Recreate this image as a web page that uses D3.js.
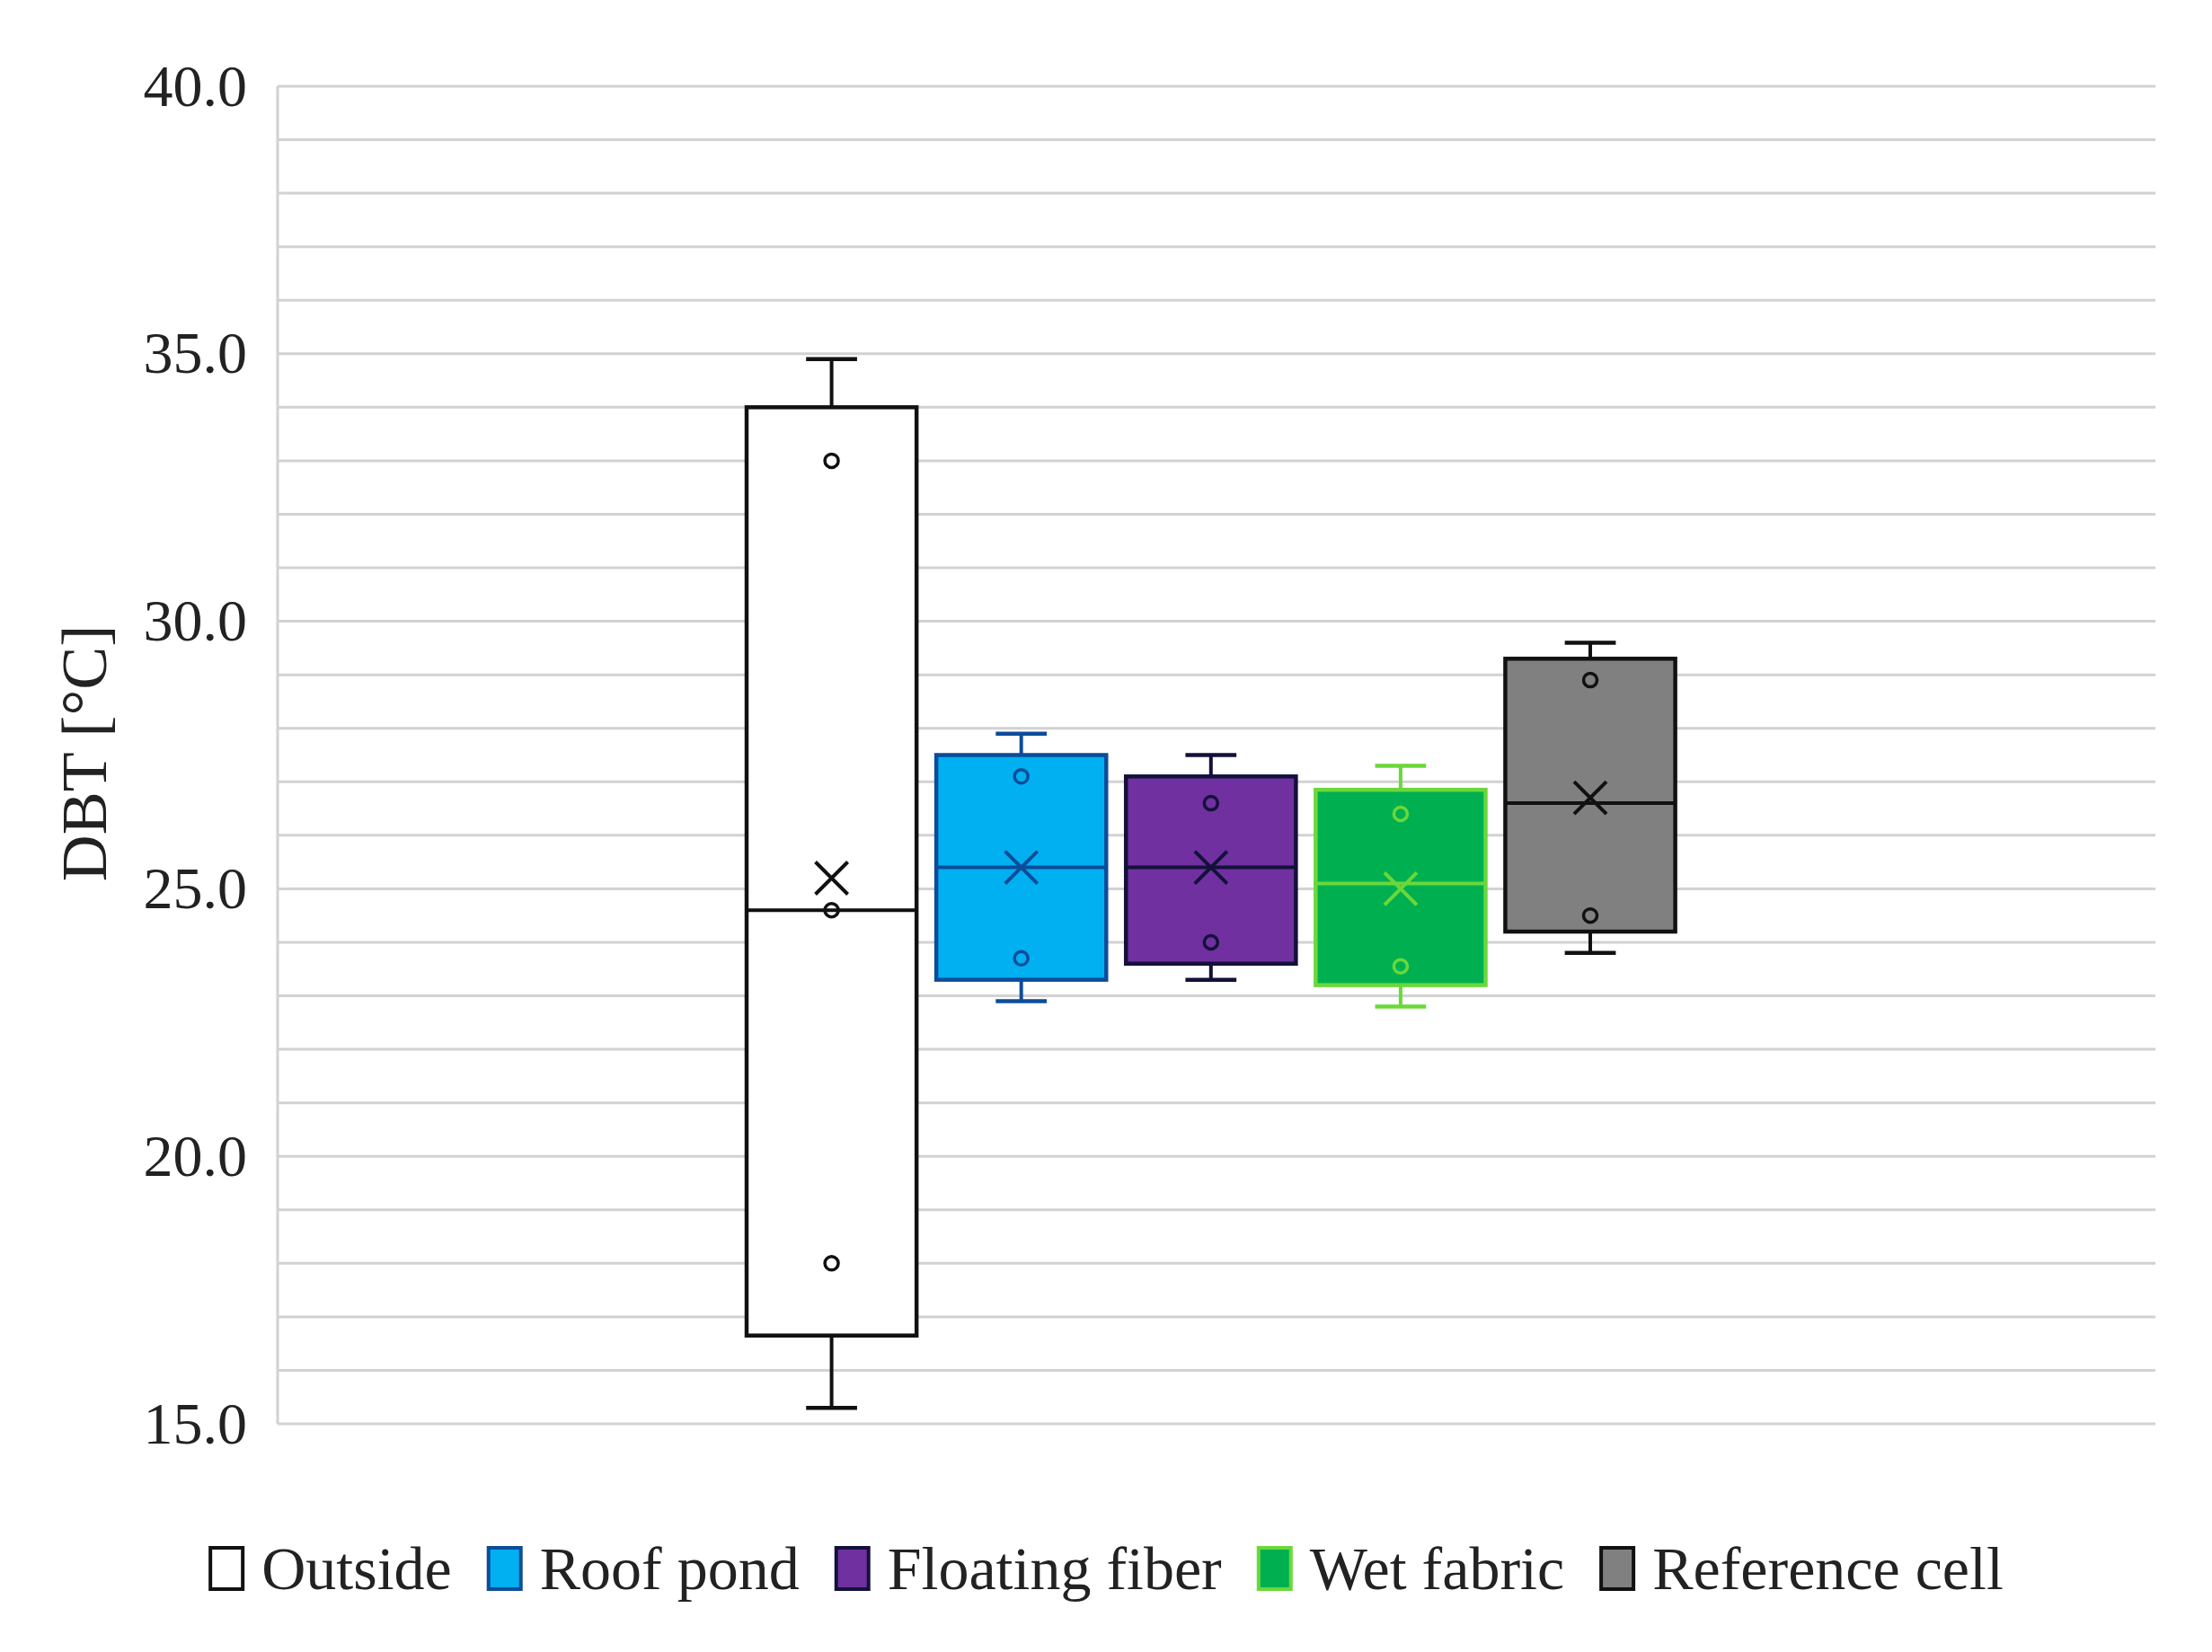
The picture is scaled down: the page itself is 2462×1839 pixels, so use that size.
<!DOCTYPE html>
<html>
<head>
<meta charset="utf-8">
<script src="https://cdn.jsdelivr.net/npm/d3@7"></script>
<style>
  html, body { margin: 0; padding: 0; background: #fff; }
  svg text { font-family: "Liberation Serif", "DejaVu Serif", serif; fill: #222; }
</style>
</head>
<body>
<div id="chart"></div>
<script>
// Series (one box per series, single category)
const series = ['Outside', 'Roof pond', 'Floating fiber', 'Wet fabric', 'Reference cell'];
const whiskerMin = [15.3, 22.9, 23.3, 22.8, 23.8];
const q1 = [16.65, 23.3, 23.6, 23.2, 24.2];
const median = [24.6, 25.4, 25.4, 25.1, 26.6];
const q3 = [34.0, 27.5, 27.1, 26.85, 29.3];
const whiskerMax = [34.9, 27.9, 27.5, 27.3, 29.6];
const mean = [25.2, 25.4, 25.4, 25.0, 26.7];
const innerPoints = [
    [18.0, 24.6, 33.0],
    [23.7, 27.1],
    [24.0, 26.6],
    [23.55, 26.4],
    [24.5, 28.9]
];
const yTicks = [15, 20, 25, 30, 35, 40];

// Colours per series
const fills = ['#ffffff', '#00b0f0', '#7030a0', '#00b050', '#808080'];
const strokes = ['#111111', '#0d4c9a', '#13113a', '#6ad83a', '#111111'];

const width = 2462;
const height = 1839;
const margin = { left: 309, right: 63, top: 96, bottom: 254 };

const svg = d3.select('#chart')
    .append('svg')
    .attr('width', width)
    .attr('height', height);

const y = d3.scaleLinear()
    .domain([15, 40])
    .range([height - margin.bottom, margin.top]);

// outer band = the single category, inner band = series within it
const x0 = d3.scaleBand()
    .domain(['DBT'])
    .range([margin.left, width - margin.right])
    .paddingOuter(0.49)
    .align(0.494);

const x1 = d3.scaleBand()
    .domain(series)
    .range([x0('DBT'), x0('DBT') + x0.bandwidth()])
    .paddingInner(0.104)
    .paddingOuter(0.052);

// Gridlines every 1.0
const grid = svg.append('g');
grid.selectAll('line')
    .data(d3.range(15, 41, 1))
    .enter()
    .append('line')
    .attr('x1', margin.left)
    .attr('x2', width - margin.right)
    .attr('y1', d => y(d))
    .attr('y2', d => y(d))
    .attr('stroke', '#d2d2d2')
    .attr('stroke-width', 3);

grid.append('line')
    .attr('x1', margin.left)
    .attr('x2', margin.left)
    .attr('y1', y(40))
    .attr('y2', y(15))
    .attr('stroke', '#d2d2d2')
    .attr('stroke-width', 3);

// Y axis labels
const yAxis = d3.axisLeft(y)
    .tickValues(yTicks)
    .tickFormat(d3.format('.1f'))
    .tickSize(0)
    .tickPadding(34);

svg.append('g')
    .attr('transform', `translate(${margin.left},0)`)
    .call(yAxis)
    .call(g => g.select('.domain').remove())
    .call(g => g.selectAll('text')
        .attr('font-size', 66)
        .attr('fill', '#222')
        .attr('font-family', '"Liberation Serif", serif'));

// Y axis title
svg.append('text')
    .attr('transform', `translate(94,${(y(40) + y(15)) / 2 - 2}) rotate(-90)`)
    .attr('text-anchor', 'middle')
    .attr('dominant-baseline', 'central')
    .attr('font-size', 72)
    .text('DBT [°C]');

// Boxes
const boxes = svg.append('g')
    .selectAll('g')
    .data(series)
    .enter()
    .append('g');

const bw = x1.bandwidth();
const cx = name => x1(name) + bw / 2;
const capW = bw * 0.3;

// whiskers
boxes.append('line')
    .attr('x1', d => cx(d)).attr('x2', d => cx(d))
    .attr('y1', (d, i) => y(q3[i])).attr('y2', (d, i) => y(whiskerMax[i]))
    .attr('stroke', (d, i) => strokes[i]).attr('stroke-width', 4);
boxes.append('line')
    .attr('x1', d => cx(d)).attr('x2', d => cx(d))
    .attr('y1', (d, i) => y(q1[i])).attr('y2', (d, i) => y(whiskerMin[i]))
    .attr('stroke', (d, i) => strokes[i]).attr('stroke-width', 4);
boxes.append('line')
    .attr('x1', d => cx(d) - capW / 2).attr('x2', d => cx(d) + capW / 2)
    .attr('y1', (d, i) => y(whiskerMax[i])).attr('y2', (d, i) => y(whiskerMax[i]))
    .attr('stroke', (d, i) => strokes[i]).attr('stroke-width', 4.5);
boxes.append('line')
    .attr('x1', d => cx(d) - capW / 2).attr('x2', d => cx(d) + capW / 2)
    .attr('y1', (d, i) => y(whiskerMin[i])).attr('y2', (d, i) => y(whiskerMin[i]))
    .attr('stroke', (d, i) => strokes[i]).attr('stroke-width', 4.5);

// box body
boxes.append('rect')
    .attr('x', d => x1(d))
    .attr('width', bw)
    .attr('y', (d, i) => y(q3[i]))
    .attr('height', (d, i) => y(q1[i]) - y(q3[i]))
    .attr('fill', (d, i) => fills[i])
    .attr('stroke', (d, i) => strokes[i])
    .attr('stroke-width', 4.5);

// median
boxes.append('line')
    .attr('x1', d => x1(d)).attr('x2', d => x1(d) + bw)
    .attr('y1', (d, i) => y(median[i])).attr('y2', (d, i) => y(median[i]))
    .attr('stroke', (d, i) => strokes[i]).attr('stroke-width', 4);

// inner points
boxes.each(function(d, i) {
    d3.select(this).selectAll('circle')
        .data(innerPoints[i])
        .enter()
        .append('circle')
        .attr('cx', cx(d))
        .attr('cy', v => y(v))
        .attr('r', 7.5)
        .attr('fill', 'none')
        .attr('stroke', strokes[i])
        .attr('stroke-width', 3.5);
});

// mean marker (X)
const xs = 18;
boxes.append('path')
    .attr('d', (d, i) => {
        const px = cx(d), py = y(mean[i]);
        return `M${px - xs},${py - xs}L${px + xs},${py + xs}M${px - xs},${py + xs}L${px + xs},${py - xs}`;
    })
    .attr('stroke', (d, i) => strokes[i])
    .attr('stroke-width', 4)
    .attr('fill', 'none');

// Legend
const legend = svg.append('g');
const legendY = 1746;
const swW = 40, swH = 46;
let lx = 0;
series.forEach((name, i) => {
    const item = legend.append('g').attr('transform', `translate(${lx},0)`);
    item.append('rect')
        .attr('x', 2).attr('y', legendY - swH / 2)
        .attr('width', swW - 4).attr('height', swH)
        .attr('fill', fills[i])
        .attr('stroke', strokes[i])
        .attr('stroke-width', 4);
    const t = item.append('text')
        .attr('x', swW + 19)
        .attr('y', legendY)
        .attr('dominant-baseline', 'central')
        .attr('font-size', 68)
        .text(name);
    lx += swW + 19 + t.node().getComputedTextLength() + 39;
});
const legendW = lx - 39;
legend.attr('transform', `translate(${(width - legendW) / 2},0)`);
</script>
</body>
</html>
